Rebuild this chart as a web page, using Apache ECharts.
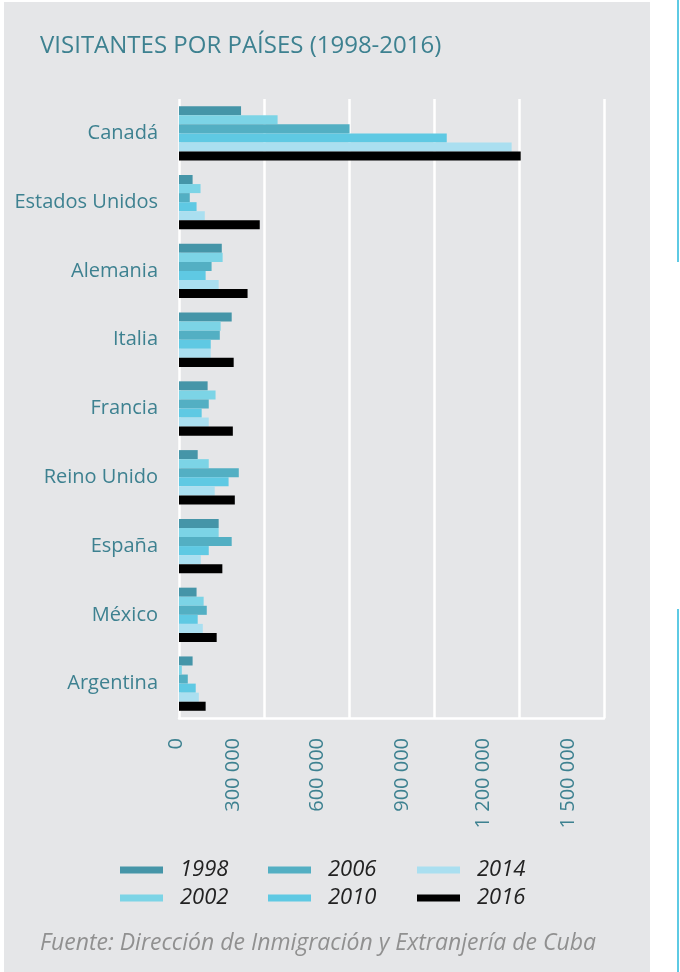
<!DOCTYPE html>
<html>
<head>
<meta charset="utf-8">
<script src="https://cdn.jsdelivr.net/npm/echarts@6/dist/echarts.min.js"></script>
<style>
html,body{margin:0;padding:0;background:#fff;}
#chart{width:680px;height:972px;}
</style>
</head>
<body>
<div id="chart"></div>
<script>
const titleText = 'VISITANTES POR PAÍSES (1998-2016)';
const sourceText = 'Fuente: Dirección de Inmigración y Extranjería de Cuba';
const categories = ['Canadá','Estados Unidos','Alemania','Italia','Francia','Reino Unido','España','México','Argentina'];
const years = ['1998','2002','2006','2010','2014','2016'];
const v1998 = [219000, 48000, 151000, 186000, 101000, 66000, 140000, 62000, 48000];
const v2002 = [348000, 76000, 154000, 147000, 129000, 105000, 140000, 87000, 10000];
const v2006 = [602000, 38000, 115000, 144000, 105000, 211000, 186000, 98000, 31000];
const v2010 = [945000, 62000, 94000, 112000, 80000, 175000, 105000, 66000, 59000];
const v2014 = [1174000, 91000, 140000, 112000, 105000, 126000, 77000, 84000, 70000];
const v2016 = [1206000, 285000, 242000, 193000, 190000, 197000, 153000, 133000, 94000];
const tickLabels = ['0','300 000','600 000','900 000','1 200 000','1 500 000'];
const seriesValues = [v1998, v2002, v2006, v2010, v2014, v2016];
const colors = ['#4595a8','#7cd4e6','#53afc3','#5fc9e3','#aadff0','#000000'];

const teal = '#3d8190';
const sans = "'Open Sans',sans-serif";

const chart = echarts.init(document.getElementById('chart'), null, {renderer:'canvas'});

const labelShift = ['s0','s1','s2','s3','s4','s5'];
const shiftPad = [6, 62, 64, 63, 72, 72];
const rich = {};
labelShift.forEach((k,i)=>{ rich[k] = {padding:[0,0,shiftPad[i],0], fontFamily:sans, fontSize:20, color:teal}; });

const legendCommon = {
  orient:'vertical', itemWidth:43, itemHeight:7, itemGap:6, padding:0,
  icon:'rect',
  textStyle:{fontFamily:sans, fontStyle:'italic', fontSize:22, color:'#222', lineHeight:22, padding:[0,0,0,12]}
};

const option = {
  backgroundColor:'#ffffff',
  animation:false,
  graphic:[
    {type:'rect', z:-10, silent:true, shape:{x:4,y:2,width:646,height:972}, style:{fill:'#e5e6e8'}},
    {type:'rect', z:-10, silent:true, shape:{x:677,y:0,width:2,height:262}, style:{fill:'#5ecae4'}},
    {type:'rect', z:-10, silent:true, shape:{x:677,y:609,width:2,height:363}, style:{fill:'#5ecae4'}}
  ],
  title:[
    {text:titleText, left:40, top:34, padding:0, textStyle:{fontFamily:sans, fontSize:24, fontWeight:'normal', color:teal}},
    {text:sourceText, left:40, top:932, padding:0, textStyle:{fontFamily:sans, fontStyle:'italic', fontSize:23, fontWeight:'normal', color:'#909090'}}
  ],
  legend:[
    Object.assign({left:120, top:859, data:[years[0],years[1]]}, legendCommon),
    Object.assign({left:268, top:859, data:[years[2],years[3]]}, legendCommon),
    Object.assign({left:417, top:859, data:[years[4],years[5]]}, legendCommon)
  ],
  grid:{left:179, right:76, top:99, height:619},
  xAxis:{
    type:'value', min:0, max:1500000, interval:300000,
    axisLine:{show:true, lineStyle:{color:'#ffffff', width:2.5}},
    axisTick:{show:false},
    splitLine:{show:true, lineStyle:{color:'#ffffff', width:2.5}},
    axisLabel:{
      rotate:90, margin:20,
      formatter:function(v){ const i = Math.round(v/300000); return '{'+labelShift[i]+'|'+tickLabels[i]+'}'; },
      rich:rich
    }
  },
  yAxis:{
    type:'category', data:categories, inverse:true,
    axisLine:{show:false}, axisTick:{show:false}, splitLine:{show:false},
    axisLabel:{margin:21, fontFamily:sans, fontSize:20, color:teal}
  },
  series: years.map((y,i)=>({
    name:y, type:'bar', data:seriesValues[i],
    barGap:'0%', barCategoryGap:'21%',
    itemStyle:{color:colors[i]},
    emphasis:{disabled:true}
  }))
};
chart.setOption(option);
</script>
</body>
</html>
